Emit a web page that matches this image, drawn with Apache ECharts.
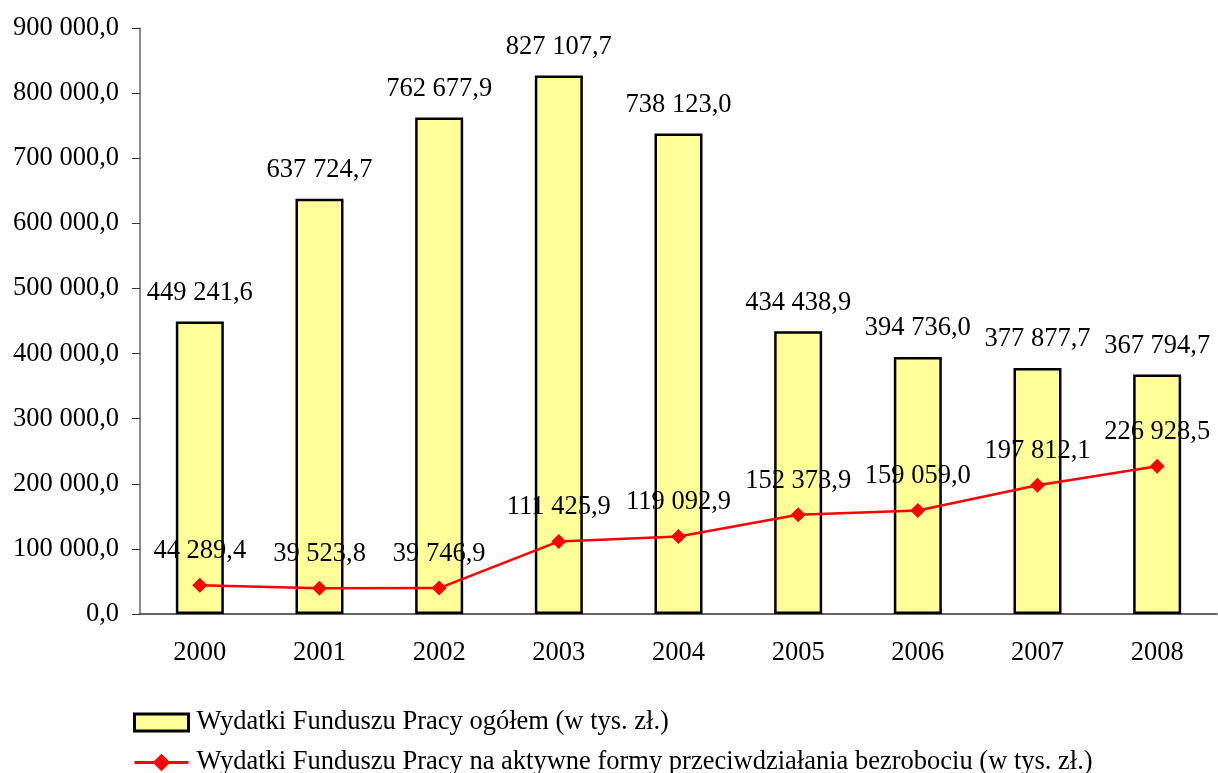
<!DOCTYPE html>
<html>
<head>
<meta charset="utf-8">
<title>Wydatki Funduszu Pracy</title>
<script src="https://cdn.jsdelivr.net/npm/echarts@6/dist/echarts.min.js"></script>
<style>
    html, body { margin: 0; padding: 0; background: #fff; }
    #chart { width: 1218px; height: 773px; }
</style>
</head>
<body>
<div id="chart"></div>
<script>
    // lata
    var years = ['2000', '2001', '2002', '2003', '2004', '2005', '2006', '2007', '2008'];
    // wydatki ogółem (w tys. zł)
    var totalSpend = [449241.6, 637724.7, 762677.9, 827107.7, 738123.0, 434438.9, 394736.0, 377877.7, 367794.7];
    // wydatki na aktywne formy (w tys. zł)
    var activeSpend = [44289.4, 39523.8, 39746.9, 111425.9, 119092.9, 152373.9, 159059.0, 197812.1, 226928.5];
    var seriesNames = [
        'Wydatki Funduszu Pracy ogółem (w tys. zł.)',
        'Wydatki Funduszu Pracy na aktywne formy przeciwdziałania bezrobociu (w tys. zł.)'
    ];
    var yMin = 0, yMax = 900000, yStep = 100000;

    var font = "'Liberation Serif', 'Times New Roman', serif";
    var fs = 26.5;

    // 449241.6 -> "449 241,6"
    function fmt(v) {
        var parts = v.toFixed(1).split('.');
        var intPart = parts[0].replace(/\B(?=(\d{3})+(?!\d))/g, ' ');
        return intPart + ',' + parts[1];
    }

    var legendText = { fontFamily: font, fontSize: fs, color: '#000', padding: [0, 0, 0, 3] };

    var chart = echarts.init(document.getElementById('chart'));
    chart.setOption({
        animation: false,
        textStyle: { fontFamily: font, color: '#000' },
        grid: { left: 140, right: 1, top: 28, bottom: 159 },
        // dwie legendy jedna pod drugą
        legend: [
            {
                left: 128, top: 704,
                itemWidth: 54, itemHeight: 17,
                textStyle: legendText,
                itemStyle: { color: '#FFFF99', borderColor: '#000', borderWidth: 3 },
                data: [{ name: seriesNames[0], icon: 'rect' }]
            },
            {
                left: 128, top: 744,
                itemWidth: 54, itemHeight: 22,
                textStyle: legendText,
                lineStyle: { width: 3, color: '#FF0000' },
                data: [seriesNames[1]]
            }
        ],
        xAxis: {
            type: 'category',
            data: years,
            axisLine: { lineStyle: { color: '#333', width: 1.5 } },
            axisTick: { length: 9, lineStyle: { color: '#333' } },
            axisLabel: { fontFamily: font, fontSize: fs, color: '#000', margin: 26 }
        },
        yAxis: {
            type: 'value',
            min: yMin,
            max: yMax,
            interval: yStep,
            splitLine: { show: false },
            axisLine: { show: true, lineStyle: { color: '#666', width: 1.5 } },
            axisTick: { show: true, length: 8, lineStyle: { color: '#333' } },
            axisLabel: { fontFamily: font, fontSize: fs, color: '#000', margin: 21, formatter: fmt }
        },
        series: [
            {
                name: seriesNames[0],
                type: 'bar',
                data: totalSpend,
                barWidth: 48,
                itemStyle: { color: '#FFFF99', borderColor: '#000', borderWidth: 2.5 },
                label: {
                    show: true,
                    position: 'top',
                    distance: 15,
                    fontFamily: font,
                    fontSize: fs,
                    color: '#000',
                    formatter: function (p) { return fmt(p.value); }
                }
            },
            {
                name: seriesNames[1],
                type: 'line',
                data: activeSpend,
                symbol: 'diamond',
                symbolSize: 15,
                itemStyle: { color: '#FF0000' },
                lineStyle: { color: '#FF0000', width: 2.5 },
                label: {
                    show: true,
                    position: 'top',
                    distance: 13,
                    fontFamily: font,
                    fontSize: fs,
                    color: '#000',
                    formatter: function (p) { return fmt(p.value); }
                }
            }
        ]
    });
</script>
</body>
</html>
